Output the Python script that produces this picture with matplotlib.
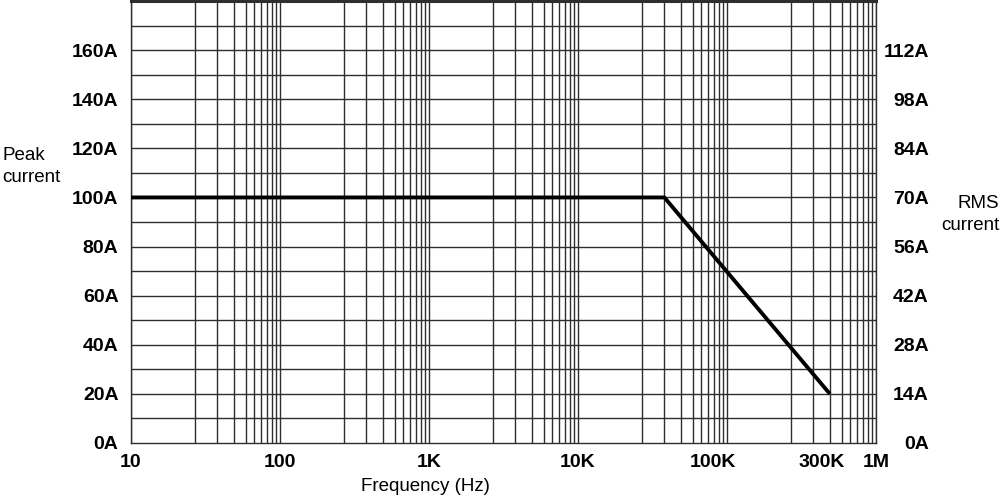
import numpy as np
import matplotlib
matplotlib.use("Agg")
import matplotlib.pyplot as plt

# curve (frequency in Hz, peak current in A)
freq = [10, 38e3, 490e3]
peak = [100, 100, 20]

# axis labels as printed on the chart
x_tick_pos = [10, 100, 1e3, 1e4, 8e4, 4.35e5, 1e6]
x_tick_lab = ["10", "100", "1K", "10K", "100K", "300K", "1M"]
y_ticks = [0, 20, 40, 60, 80, 100, 120, 140, 160]
y_lab = ["0A", "20A", "40A", "60A", "80A", "100A", "120A", "140A", "160A"]
rms_lab = ["0A", "14A", "28A", "42A", "56A", "70A", "84A", "98A", "112A"]

# the grid of the original is not a clean log grid, these are its multipliers
grid_subs = [2.7, 3.8, 4.9, 5.9, 6.7, 7.5, 8.2, 8.8, 9.4]
decades = [10, 100, 1e3, 1e4, 1e5, 1e6]

bold = ["Liberation Sans", "DejaVu Sans"]
plain = ["Liberation Sans", "DejaVu Sans"]

fig = plt.figure(figsize=(10, 4.96), dpi=100)
ax = fig.add_axes([0.131, 0.1069, 0.745, 0.891])
ax.set_xscale("log")
ax.set_xlim(10, 1e6)
ax.set_ylim(0, 180)

gc = "#2e2e2e"
for d in decades:
    ax.axvline(d, color=gc, lw=1.0, zorder=1)
    if d < 1e6:
        for s in grid_subs:
            ax.axvline(d * s, color=gc, lw=1.0, zorder=1)
for yv in range(10, 180, 10):
    ax.axhline(yv, color=gc, lw=1.0, zorder=1)

ax.plot(freq, peak, color="black", lw=2.8, solid_capstyle="butt", zorder=3)

for sp in ax.spines.values():
    sp.set_color(gc)
    sp.set_linewidth(1.0)
ax.spines["top"].set_linewidth(2.2)

ax.minorticks_off()
ax.set_xticks(x_tick_pos)
ax.set_xticklabels(x_tick_lab, family=bold, fontweight="bold", fontsize=14)
ax.set_yticks(y_ticks)
ax.set_yticklabels(y_lab, family=bold, fontweight="bold", fontsize=14)
ax.tick_params(axis="both", length=0)
ax.tick_params(axis="x", pad=8)
ax.tick_params(axis="y", pad=9)

ax2 = ax.twinx()
ax2.set_ylim(0, 180)
ax2.set_yticks(y_ticks)
ax2.set_yticklabels(rms_lab, family=bold, fontweight="bold", fontsize=14, ha="right")
ax2.tick_params(axis="y", length=0, pad=38)
for sp in ax2.spines.values():
    sp.set_visible(False)

fig.text(0.425, 0.02, "Frequency (Hz)", family=plain, fontsize=13.5, ha="center", va="center")
fig.text(0.002, 0.665, "Peak\ncurrent", family=plain, fontsize=13.5, ha="left", va="center",
         linespacing=1.4)
fig.text(0.999, 0.568, "RMS\ncurrent", family=plain, fontsize=13.5, ha="right", va="center",
         multialignment="right", linespacing=1.4)

fig.savefig("out.png", dpi=100)
